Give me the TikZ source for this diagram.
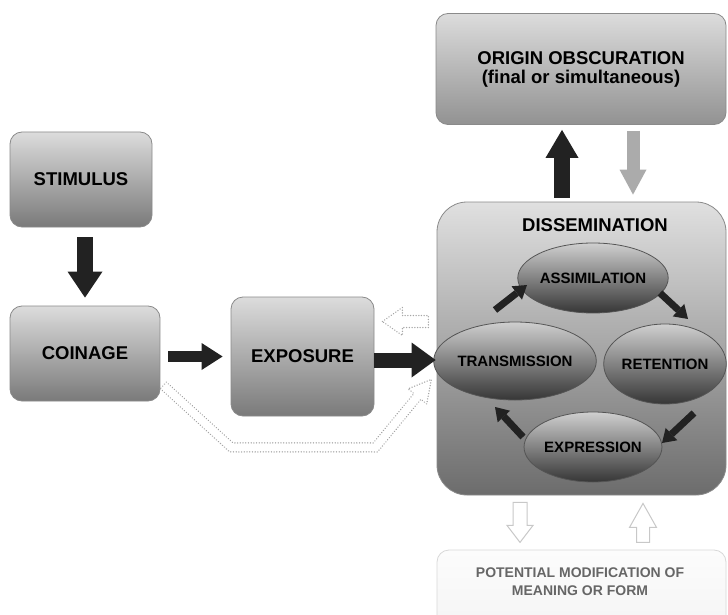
\documentclass[tikz,border=0pt]{standalone}
\usepackage{fontspec}
\setmainfont{Liberation Sans}
\usetikzlibrary{arrows.meta,shapes.geometric,calc}
\definecolor{arrdark}{HTML}{222222}
\definecolor{arrlight}{HTML}{ABABAB}
\definecolor{boxtop}{HTML}{DCDCDC}
\definecolor{boxbot}{HTML}{7A7A7A}
\definecolor{boxline}{HTML}{8A8A8A}
\definecolor{origbot}{HTML}{929292}
\definecolor{disstop}{HTML}{E0E0E0}
\definecolor{dissbot}{HTML}{6C6C6C}
\definecolor{elltop}{HTML}{CFCFCF}
\definecolor{ellbot}{HTML}{363636}
\definecolor{ellline}{HTML}{555555}
\definecolor{pottop}{HTML}{FCFCFC}
\definecolor{potbot}{HTML}{F2F2F2}
\definecolor{potline}{HTML}{D8D8D8}
\definecolor{pottext}{HTML}{666666}
\definecolor{ghostc}{HTML}{A6A6A6}
\definecolor{hollowc}{HTML}{C8C8C8}
\begin{document}
\begin{tikzpicture}[x=1pt,y=-1pt,
  box/.style={rectangle, rounded corners=12pt, draw=boxline, line width=0.8pt,
    top color=boxtop, bottom color=boxbot, inner sep=0pt, align=center,
    font=\fontsize{18.5}{19}\selectfont\bfseries},
  ell/.style={ellipse, draw=ellline, line width=0.8pt, top color=elltop,
    bottom color=ellbot, inner sep=0pt, font=\fontsize{15}{17}\selectfont\bfseries},
  dk/.style={draw=arrdark},
  lg/.style={draw=arrlight},
  ghost/.style={draw=ghostc, line width=1.5pt, dash pattern=on 0.01pt off 2.7pt, line cap=round, line join=round},
  hollow/.style={draw=hollowc, fill=white, line width=1pt, line join=miter}]
\useasboundingbox (0,0) rectangle (728,615);
\fill[white] (0,0) rectangle (728,615);
\clip (0,0) rectangle (728,615);

% boxes
\node[box, minimum width=142pt, minimum height=95pt] (stim) at (81,179.5) {STIMULUS};
\node[box, minimum width=150pt, minimum height=95pt] (coin) at (85,353.5) {COINAGE};
\node[box, minimum width=143pt, minimum height=119pt] (expo) at (302.5,356.5) {EXPOSURE};
\node[box, bottom color=origbot, minimum width=290pt, minimum height=111pt] (orig) at (581,69)
  {ORIGIN OBSCURATION\\(final or simultaneous)};
\node[box, rounded corners=30pt, top color=disstop, bottom color=dissbot,
  minimum width=289pt, minimum height=293pt] (diss) at (581.5,348.5) {};
\node[font=\fontsize{18.5}{19}\selectfont\bfseries, inner sep=0pt] (dlabel) at (595,225) {DISSEMINATION};
\node[box, top color=pottop, bottom color=potbot, draw=potline,
  minimum width=289pt, minimum height=110pt] (pot) at (581.5,605) {};
\node[font=\fontsize{14}{18}\selectfont\bfseries, text=pottext, align=center, inner sep=0pt]
  (plabel) at (580,581.5) {POTENTIAL MODIFICATION OF\\MEANING OR FORM};

% ellipses
\node[ell, minimum width=122pt, minimum height=70pt] (assim) at (593,278) {ASSIMILATION};
\node[ell, minimum width=126pt, minimum height=78pt] (trans) at (515,361) {TRANSMISSION};
\node[ell, minimum width=122pt, minimum height=80pt] (ret) at (665,364) {RETENTION};
\node[ell, minimum width=124pt, minimum height=70pt] (expr) at (593,447) {EXPRESSION};

% main block arrows
\draw[dk, line width=16pt, -{Triangle[width=35pt,length=26pt,line width=0pt]},
  shorten <=10pt, shorten >=8pt] (stim.south -| coin.north) -- (coin.north);
\draw[dk, line width=11pt, -{Triangle[width=27pt,length=21pt,line width=0pt]},
  shorten <=8pt, shorten >=8pt] (coin.east |- expo.west) -- (expo.west);
\draw[dk, line width=15pt, -{Triangle[width=35pt,length=24pt,line width=0pt]},
  shorten >=1pt] ([yshift=-3.5pt]expo.east) -- ([yshift=-3.5pt]expo.east -| diss.west);
\draw[dk, line width=16pt, -{Triangle[width=33pt,length=28pt,line width=0pt]},
  shorten <=4pt, shorten >=5pt] ([xshift=-19.5pt]diss.north) -- ([xshift=-19.5pt]diss.north |- orig.south);
\draw[lg, line width=13pt, -{Triangle[width=27pt,length=25pt,line width=0pt]},
  shorten <=6pt, shorten >=7pt] ([xshift=51.5pt]diss.north |- orig.south) -- ([xshift=51.5pt]diss.north);

% cycle arrows
\draw[dk, line width=7pt, -{Triangle[width=17pt,length=13pt,line width=0pt]}]
  ($(trans.center)+(-20,-51)$) -- ++(32,-25);
\draw[dk, line width=7pt, -{Triangle[width=17pt,length=13pt,line width=0pt]}]
  ($(assim.center)+(67,15)$) -- ++(28,26);
\draw[dk, line width=7pt, -{Triangle[width=17pt,length=13pt,line width=0pt]}]
  ($(ret.center)+(29,49)$) -- ++(-32,30);
\draw[dk, line width=7pt, -{Triangle[width=17pt,length=13pt,line width=0pt]}]
  ($(expr.center)+(-70,-10)$) -- ++(-28,-30);

% dotted hollow arrows
\draw[ghost, shift={(expo.east)}] (8,-35) -- (28,-49) -- (28,-41) -- (54,-41)
  -- (54,-29) -- (28,-29) -- (28,-21) -- cycle;
\draw[ghost, shift={(coin.south east)}] (0,-12.7) -- (69.3,50.5) -- (217.2,50.5)
  -- (260.5,-2.1) -- (266.3,2.6) -- (271,-22) -- (247.7,-12.6) -- (253.5,-7.9)
  -- (212.8,41.5) -- (72.7,41.5) -- (6,-19.3) -- cycle;

% white hollow arrows below dissemination
\draw[hollow, shift={(diss.south)}] (-68.5,7) -- (-54.5,7) -- (-54.5,30) -- (-48.5,30)
  -- (-61.5,47) -- (-74.5,30) -- (-68.5,30) -- cycle;
\draw[hollow, shift={(diss.south)}] (61.5,8) -- (75,32) -- (68,32) -- (68,47)
  -- (55,47) -- (55,32) -- (48,32) -- cycle;
\end{tikzpicture}
\end{document}
